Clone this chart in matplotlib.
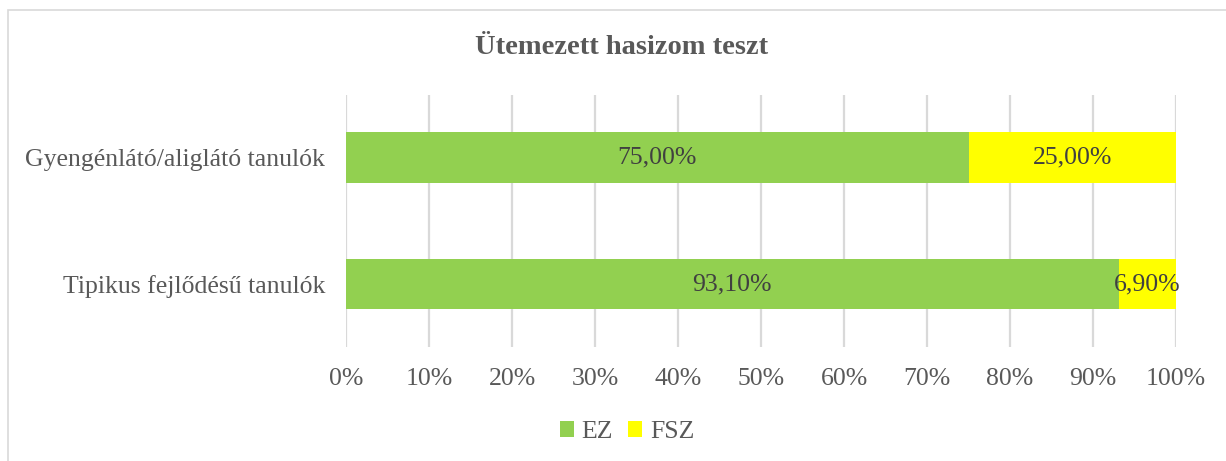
import matplotlib.pyplot as plt
from matplotlib.patches import Rectangle

plt.rcParams['font.family'] = ['Liberation Serif', 'DejaVu Serif']

groups = ["Tipikus fejlődésű tanulók", "Gyengénlátó/aliglátó tanulók"]
ez = [93.10, 75.00]
fsz = [6.90, 25.00]
ticks = [0, 10, 20, 30, 40, 50, 60, 70, 80, 90, 100]

green = "#92D050"
yellow = "#FFFF00"
txt = "#595959"
fs = 18.5

fig = plt.figure(figsize=(12.26, 4.61), dpi=100)
ax = fig.add_axes([346 / 1226, 1 - 347 / 461, 830 / 1226, 252 / 461])

pos = range(len(groups))
b1 = ax.barh(pos, ez, height=0.403, color=green, label="EZ", zorder=2)
b2 = ax.barh(pos, fsz, left=ez, height=0.403, color=yellow, label="FSZ", zorder=2)

def pct(v):
    return f"{v:.2f}%".replace(".", ",")

for i in pos:
    ax.text(ez[i] / 2, i, pct(ez[i]), ha="center", va="center",
            fontsize=fs, color="#404040", zorder=3)
    ax.text(ez[i] + fsz[i] / 2, i, pct(fsz[i]), ha="center", va="center",
            fontsize=fs, color="#404040", zorder=3)

ax.set_xlim(0, 100)
ax.set_ylim(-0.498, 1.494)
ax.set_xticks(ticks)
ax.set_xticklabels([f"{t}%" for t in ticks], fontsize=fs, color=txt)
ax.set_yticks(list(pos))
ax.set_yticklabels(groups, fontsize=fs, color=txt)
ax.tick_params(length=0, pad=15, axis="x")
ax.tick_params(length=0, pad=15, axis="y")
ax.grid(axis="x", color="#D9D9D9", linewidth=1.6, zorder=0)
for s in ax.spines.values():
    s.set_visible(False)

fig.text(622 / 1226, 1 - 47 / 461, "Ütemezett hasizom teszt", ha="center", va="center",
         fontsize=20.5, fontweight="bold", color=txt)

leg = fig.legend(handles=[b1, b2], loc="center", bbox_to_anchor=(627 / 1226, 1 - 432 / 461),
                 ncol=2, frameon=False, fontsize=fs, handlelength=0.55, handleheight=0.55,
                 handletextpad=0.3, columnspacing=0.6)
for t in leg.get_texts():
    t.set_color(txt)

fig.patches.append(Rectangle((7.5 / 1226, -0.1), 1.2, 1 - 10 / 461 + 0.1,
                             transform=fig.transFigure, fill=False,
                             edgecolor="#D9D9D9", linewidth=1.2))

fig.savefig("out.png", dpi=100)
